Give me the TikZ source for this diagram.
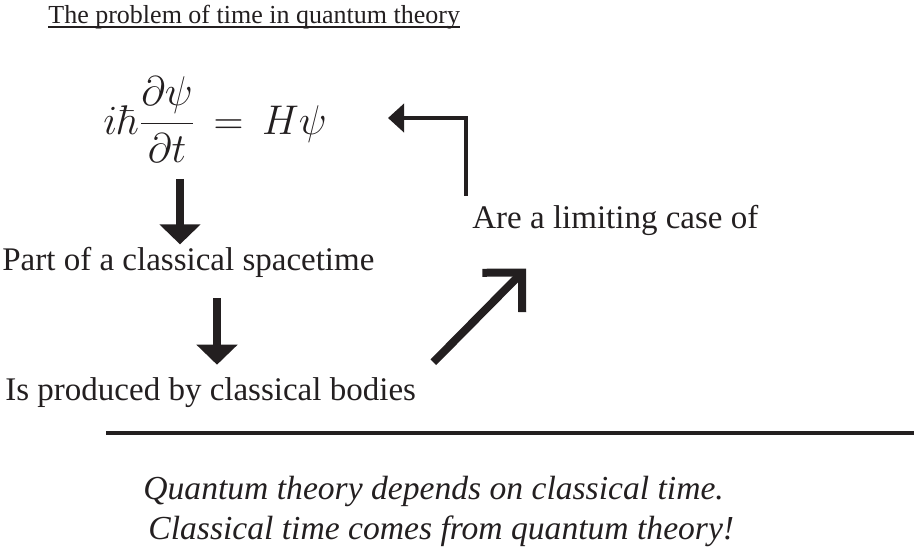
\documentclass[tikz,border=0pt]{standalone}
\usepackage[no-math]{fontspec}
\setmainfont{Liberation Serif}
\usetikzlibrary{arrows.meta,positioning}
\definecolor{ink}{RGB}{35,31,32}
\tikzset{
  txt/.style={inner sep=0pt, anchor=base west, text=ink, font=\fontsize{16.5}{20}\selectfont},
  headline/.style={txt, font=\fontsize{13}{16}\selectfont},
  quote/.style={txt, font=\fontsize{16.8}{20}\selectfont\itshape},
  fatarrow/.style={draw=ink, line width=4pt, -{Triangle[width=20pt,length=10pt]}},
  barbarrow/.style={draw=ink, line width=4pt, -{Straight Barb[length=14pt,width=28pt,sharp]}},
  bentarrow/.style={draw=ink, line width=2pt, -{Triangle[width=14pt,length=8pt]}}
}
\begin{document}
\begin{tikzpicture}[x=0.5pt, y=-0.5pt]
  \useasboundingbox (0,0) rectangle (914,553);
  % heading
  \node[headline] (title) at (48,23) {The problem of time in quantum theory};
  \draw[ink, line width=0.8pt] ([yshift=-2pt]title.base west) -- ([yshift=-2pt]title.base east);
  % the chain
  \node[inner sep=0pt, anchor=base west, text=ink, font=\fontsize{20}{24}\selectfont] (eqn) at (103,134)
    {$\displaystyle i\hbar\frac{\partial\psi}{\partial t} \,=\, H\psi$};
  \node[txt] (part) at (2,270) {Part of a classical spacetime};
  \node[txt] (prod) at (5,400) {Is produced by classical bodies};
  \node[txt] (limit) at (472,228) {Are a limiting case of};
  \coordinate (c1) at (180,0);
  \coordinate (c2) at (217,0);
  \coordinate (c4) at (466,0);
  \coordinate (back) at (388,118);
  \draw[fatarrow, shorten <=8pt, shorten >=1pt] (eqn.south -| c1) -- (part.north -| c1);
  \draw[fatarrow, shorten <=10.5pt, shorten >=6pt] (part.south -| c2) -- (prod.north -| c2);
  \draw[barbarrow] ([shift={(17,-14.5)}]prod.north east) -- ([shift={(54,33)}]limit.south west);
  \draw[bentarrow, shorten <=4.3pt] (limit.north -| c4) |- (back);
  % conclusion
  \coordinate (ruleL) at (106,433);
  \coordinate (ruleR) at (914,433);
  \draw[ink, line width=1.7pt] (ruleL) -- (ruleR);
  \node[quote] (q1) at (143,499) {Quantum theory depends on classical time.};
  \node[quote] (q2) at (148,539) {Classical time comes from quantum theory!};
\end{tikzpicture}
\end{document}
